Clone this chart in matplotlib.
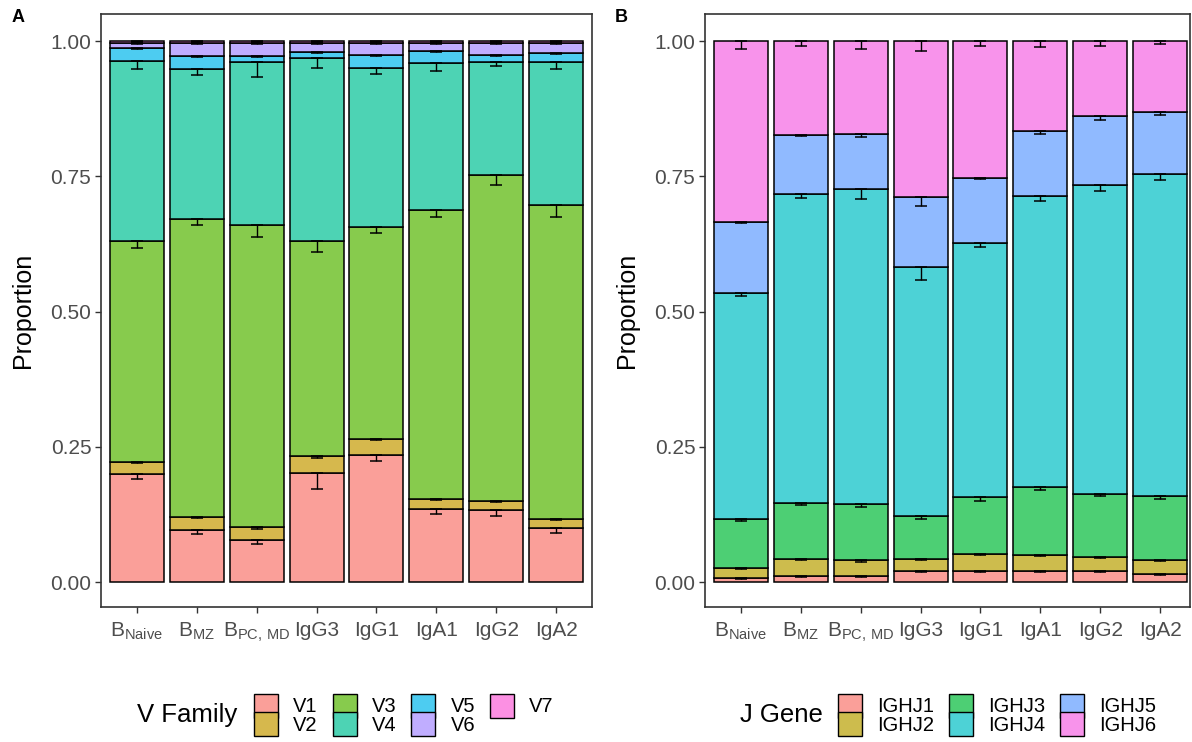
import matplotlib
matplotlib.use("Agg")
import matplotlib.pyplot as plt
import numpy as np
from matplotlib.patches import Patch

plt.rcParams['font.family'] = ['Liberation Sans', 'DejaVu Sans']
plt.rcParams['mathtext.fontset'] = 'custom'
plt.rcParams['mathtext.rm'] = 'Liberation Sans'

# categories
cell_types = [r'B$_{\mathrm{Naive}}$', r'B$_{\mathrm{MZ}}$', r'B$_{\mathrm{PC,\,MD}}$',
              'IgG3', 'IgG1', 'IgA1', 'IgG2', 'IgA2']

# panel A: V family proportions (segment heights, bottom to top)
v_names = ['V1', 'V2', 'V3', 'V4', 'V5', 'V6', 'V7']
v1 = [0.200, 0.097, 0.078, 0.201, 0.235, 0.136, 0.134, 0.100]
v2 = [0.022, 0.024, 0.023, 0.032, 0.029, 0.017, 0.016, 0.016]
v3 = [0.408, 0.550, 0.559, 0.398, 0.393, 0.535, 0.602, 0.581]
v4 = [0.333, 0.277, 0.301, 0.337, 0.294, 0.271, 0.209, 0.264]
v5 = [0.025, 0.025, 0.011, 0.012, 0.024, 0.022, 0.013, 0.017]
v6 = [0.009, 0.024, 0.025, 0.017, 0.022, 0.016, 0.023, 0.019]
v7 = [0.003, 0.003, 0.003, 0.003, 0.003, 0.003, 0.003, 0.003]
# error (downward extent from each cumulative boundary)
v1_err = [0.009, 0.008, 0.008, 0.029, 0.012, 0.010, 0.012, 0.010]
v2_err = [0.002, 0.002, 0.002, 0.004, 0.002, 0.002, 0.002, 0.002]
v3_err = [0.013, 0.011, 0.022, 0.020, 0.012, 0.014, 0.018, 0.023]
v4_err = [0.014, 0.010, 0.027, 0.018, 0.011, 0.014, 0.008, 0.012]
v5_err = [0.002, 0.002, 0.002, 0.002, 0.002, 0.002, 0.002, 0.002]
v6_err = [0.002, 0.002, 0.002, 0.002, 0.002, 0.002, 0.002, 0.002]
v7_err = [0.002, 0.002, 0.002, 0.002, 0.002, 0.002, 0.002, 0.002]

# panel B: J gene proportions
j_names = ['IGHJ1', 'IGHJ2', 'IGHJ3', 'IGHJ4', 'IGHJ5', 'IGHJ6']
j1 = [0.007, 0.012, 0.012, 0.020, 0.020, 0.020, 0.021, 0.015]
j2 = [0.019, 0.031, 0.029, 0.023, 0.032, 0.030, 0.026, 0.026]
j3 = [0.091, 0.103, 0.104, 0.080, 0.105, 0.125, 0.115, 0.118]
j4 = [0.418, 0.572, 0.581, 0.460, 0.469, 0.539, 0.572, 0.596]
j5 = [0.130, 0.109, 0.103, 0.129, 0.121, 0.120, 0.127, 0.114]
j6 = [0.335, 0.173, 0.171, 0.288, 0.253, 0.166, 0.139, 0.131]
j1_err = [0.002, 0.002, 0.002, 0.002, 0.002, 0.002, 0.002, 0.002]
j2_err = [0.002, 0.002, 0.003, 0.003, 0.002, 0.002, 0.002, 0.002]
j3_err = [0.004, 0.003, 0.006, 0.007, 0.007, 0.004, 0.003, 0.005]
j4_err = [0.007, 0.008, 0.017, 0.025, 0.007, 0.009, 0.011, 0.011]
j5_err = [0.002, 0.002, 0.006, 0.017, 0.002, 0.005, 0.006, 0.006]
j6_err = [0.014, 0.009, 0.014, 0.019, 0.009, 0.011, 0.009, 0.006]

v_colors = ['#F8766D', '#C49A00', '#53B400', '#00C094', '#00B6EB', '#A58AFF', '#FB61D7']
j_colors = ['#F8766D', '#B79F00', '#00BA38', '#00BFC4', '#619CFF', '#F564E3']
ALPHA = 0.7


def blend(hex_color, alpha=ALPHA):
    rgb = np.array(matplotlib.colors.to_rgb(hex_color))
    return tuple(alpha * rgb + (1 - alpha))


def draw_panel(ax, segments, errors, colors, xmax):
    x = np.arange(1, len(cell_types) + 1)
    bottom = np.zeros(len(cell_types))
    tops = []
    for seg, col in zip(segments, colors):
        seg = np.array(seg)
        ax.bar(x, seg, width=0.9, bottom=bottom, color=blend(col),
               edgecolor='black', linewidth=1.1, zorder=2)
        bottom = bottom + seg
        tops.append(bottom.copy())
    for top, err in zip(tops, errors):
        err = np.array(err)
        ax.errorbar(x, top, yerr=[err, np.zeros_like(err)], fmt='none',
                    ecolor='black', elinewidth=1.0, capsize=4.3, capthick=1.1, zorder=3)
    ax.set_xlim(0.4, xmax)
    ax.set_ylim(-0.046, 1.05)
    ax.set_xticks(x)
    ax.set_xticklabels(cell_types)
    ax.set_yticks([0, 0.25, 0.5, 0.75, 1.0])
    ax.set_yticklabels(['0.00', '0.25', '0.50', '0.75', '1.00'])
    ax.set_ylabel('Proportion', fontsize=18, color='black', labelpad=11)
    ax.tick_params(axis='both', labelsize=15, labelcolor='#4D4D4D', color='#333333',
                   length=4, width=1.0, pad=3)
    ax.tick_params(axis='x', pad=6)
    for s in ax.spines.values():
        s.set_color('#333333')
        s.set_linewidth(1.2)


fig = plt.figure(figsize=(11.92, 7.42), dpi=100)
ax_a = fig.add_axes([101 / 1192, 135 / 742, 491 / 1192, 593 / 742])
ax_b = fig.add_axes([705 / 1192, 135 / 742, 485 / 1192, 593 / 742])

draw_panel(ax_a, [v1, v2, v3, v4, v5, v6, v7],
           [v1_err, v2_err, v3_err, v4_err, v5_err, v6_err, v7_err], v_colors, 8.6)
draw_panel(ax_b, [j1, j2, j3, j4, j5, j6],
           [j1_err, j2_err, j3_err, j4_err, j5_err, j6_err], j_colors, 8.5)

fig.text(12 / 1192, 1 - 18 / 742, 'A', fontsize=13, fontweight='bold', va='center', ha='left')
fig.text(615 / 1192, 1 - 18 / 742, 'B', fontsize=13, fontweight='bold', va='center', ha='left')

# legends
leg_y = 1 - 715 / 742
leg_kw = dict(loc='center left', frameon=False, fontsize=14.5, handlelength=1.19,
              handleheight=1.457, labelspacing=-0.26, handletextpad=0.75,
              columnspacing=0.75, borderpad=0, borderaxespad=0)

v_handles = [Patch(facecolor=blend(c), edgecolor='black', linewidth=1.0, label=n)
             for c, n in zip(v_colors, v_names)]
fig.text(237 / 1192, leg_y, 'V Family', fontsize=18.5, ha='right', va='center')
fig.legend(handles=v_handles, bbox_to_anchor=(254 / 1192, leg_y), ncol=4, **leg_kw)

j_handles = [Patch(facecolor=blend(c), edgecolor='black', linewidth=1.0, label=n)
             for c, n in zip(j_colors, j_names)]
fig.text(823 / 1192, leg_y, 'J Gene', fontsize=18.5, ha='right', va='center')
fig.legend(handles=j_handles, bbox_to_anchor=(838 / 1192, leg_y), ncol=3, **leg_kw)

fig.savefig('out.png', dpi=100)
